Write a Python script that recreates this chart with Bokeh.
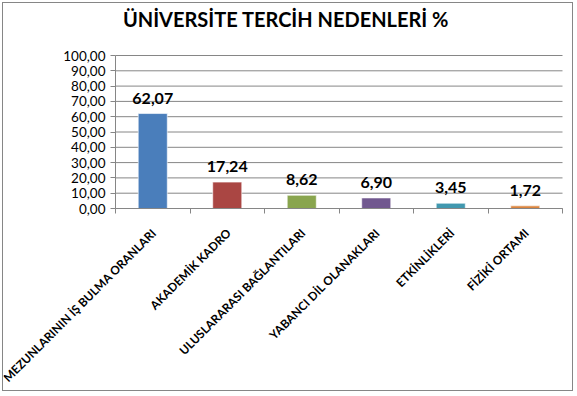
import math
from bokeh.plotting import figure
from bokeh.models import Range1d, FixedTicker, ColumnDataSource, LinearAxis
from bokeh.core.properties import value
from bokeh.embed import file_html
from bokeh.resources import INLINE

categories = ["MEZUNLARININ İŞ BULMA ORANLARI", "AKADEMİK KADRO", "ULUSLARARASI BAĞLANTILARI",
              "YABANCI DİL OLANAKLARI", "ETKİNLİKLERİ", "FİZİKİ ORTAMI"]
values = [62.07, 17.24, 8.62, 6.90, 3.45, 1.72]
colors = ["#4A7EBB", "#AA4643", "#89A54E", "#71588F", "#4198AF", "#DB843D"]
y_ticks = [0, 10, 20, 30, 40, 50, 60, 70, 80, 90, 100]
y_tick_labels = ["0,00", "10,00", "20,00", "30,00", "40,00", "50,00", "60,00", "70,00", "80,00", "90,00", "100,00"]
title_text = "ÜNİVERSİTE TERCİH NEDENLERİ %"

n = len(categories)
ymax = y_ticks[-1]
xs = [i + 0.5 for i in range(n)]
labels = [f"{v:.2f}".replace(".", ",") for v in values]
src = ColumnDataSource(dict(x=xs, top=values, color=colors, label=labels))
cat_src = ColumnDataSource(dict(x=xs, y=[0] * n, text=categories))

# layout (pixels): canvas size and where the plotting area sits inside it
W, H = 571, 389
PL, PR, PT, PB = 112, 559, 52, 205          # plot area edges in canvas pixels
sx = (PR - PL) / n
sy = (PB - PT) / ymax
x_range = Range1d(-PL / sx, n + (W - PR) / sx)
y_range = Range1d(-(H - PB) / sy, ymax + PT / sy)

p = figure(width=W, height=H, output_backend="svg", toolbar_location=None,
           x_range=x_range, y_range=y_range, x_axis_location=None, y_axis_location=None,
           min_border=0)
p.styles = {"border": "1px solid #868686", "margin": "2px 0 0 2px"}
p.outline_line_color = None
p.background_fill_color = "white"
p.border_fill_color = "white"
p.xgrid.visible = False
p.ygrid.visible = False

# gridlines across the plot area only
p.segment(x0=[0] * len(y_ticks), x1=[n] * len(y_ticks), y0=y_ticks, y1=y_ticks,
          line_color="#868686", line_width=1)

# title
p.text(x=[n / 2], y=[ymax], text=[title_text], text_align="center", text_baseline="alphabetic",
       x_offset=-53, y_offset=-37, text_font=value("Lato"), text_font_size="20px",
       text_font_style="bold", text_color="#000000")

p.vbar(x="x", top="top", width=0.39, source=src, fill_color="color", line_color="white", line_alpha=0.6)
p.text(x="x", y="top", text="label", source=src, text_align="center", text_baseline="bottom",
       y_offset=-10, text_font=value("Lato"), text_font_size="16px", text_font_style="bold",
       text_color="#000000")

# y axis
yax = LinearAxis(fixed_location=0, bounds=(0, ymax))
yax.ticker = FixedTicker(ticks=y_ticks, minor_ticks=[])
yax.major_label_overrides = {t: l for t, l in zip(y_ticks, y_tick_labels)}
yax.axis_line_color = "#868686"
yax.major_tick_line_color = "#868686"
yax.major_tick_out = 5
yax.major_tick_in = 0
yax.minor_tick_line_color = None
yax.major_label_text_font = "Lato"
yax.major_label_text_font_size = "13.5px"
yax.major_label_text_color = "#000000"
yax.major_label_standoff = 5
p.add_layout(yax, "left")

# x axis: tick marks at category boundaries
xax = LinearAxis(fixed_location=0, bounds=(0, n))
xax.ticker = FixedTicker(ticks=[], minor_ticks=list(range(n + 1)))
xax.axis_line_color = "#868686"
xax.major_tick_line_color = None
xax.minor_tick_line_color = "#868686"
xax.minor_tick_out = 5
xax.minor_tick_in = 0
xax.major_label_text_font_size = "0px"
p.add_layout(xax, "below")

# rotated category names
p.text(x="x", y="y", text="text", source=cat_src, angle=math.pi / 4,
       text_align="right", text_baseline="top", x_offset=-4, y_offset=17,
       text_font=value("Lato"), text_font_size="11.8px", text_font_style="bold",
       text_color="#000000")

open("out.html", "w").write(file_html(p, INLINE))
